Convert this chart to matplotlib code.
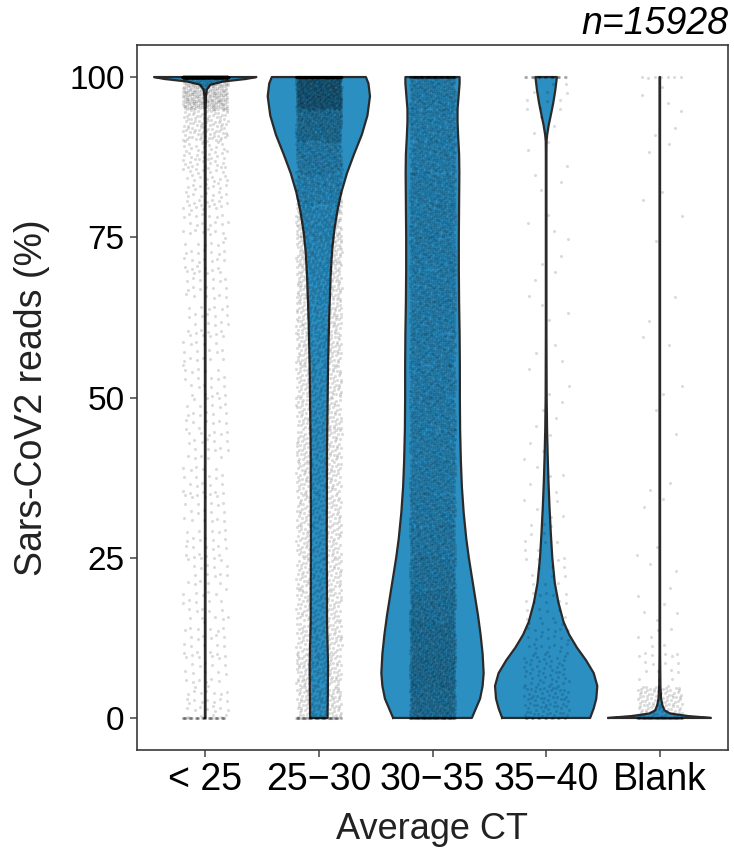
import numpy as np
import matplotlib.pyplot as plt

plt.rcParams['font.family'] = ['Liberation Sans', 'DejaVu Sans']

# categories on the x axis
categories = ['< 25', '25\u221230', '30\u221235', '35\u221240', 'Blank']

# violin outlines: y (%) and width relative to the widest point
lt25_y = [0, 2, 50, 95, 97, 98, 98.8, 99.3, 99.7, 100]
lt25_w = [0.006, 0.005, 0.005, 0.008, 0.015, 0.03, 0.1, 0.35, 0.8, 1.0]

c2530_y = [0, 3, 8, 15, 28, 42, 55, 62, 69, 73, 76, 79, 82, 85, 88, 91, 94, 97, 99, 100]
c2530_w = [0.17, 0.175, 0.18, 0.16, 0.155, 0.16, 0.18, 0.2, 0.23, 0.26, 0.30, 0.36, 0.44,
           0.55, 0.69, 0.84, 0.95, 1.0, 0.97, 0.92]

c3035_y = [0, 1.5, 3, 5, 7, 10, 13, 16, 19, 22, 25, 28, 32, 36, 40, 45, 50, 55, 60, 65,
           70, 75, 80, 85, 88, 91, 93, 95, 97, 99, 100]
c3035_w = [0.77, 0.85, 0.93, 0.98, 1.0, 0.98, 0.94, 0.89, 0.83, 0.77, 0.71, 0.66, 0.61,
           0.575, 0.555, 0.54, 0.535, 0.535, 0.53, 0.52, 0.515, 0.515, 0.52, 0.525, 0.52,
           0.5, 0.49, 0.49, 0.51, 0.53, 0.53]

c3540_y = [0, 1.5, 3, 5, 7, 9, 11, 13, 15, 18, 21, 25, 29, 33, 37, 41, 45, 50, 60, 70,
           80, 88, 90, 91, 92.5, 94, 96, 98, 100]
c3540_w = [0.86, 0.93, 0.98, 1.0, 0.93, 0.78, 0.6, 0.45, 0.34, 0.24, 0.17, 0.12, 0.09,
           0.065, 0.045, 0.03, 0.018, 0.01, 0.006, 0.006, 0.006, 0.006, 0.008, 0.02, 0.05,
           0.09, 0.14, 0.18, 0.21]

blank_y = [0, 0.3, 0.7, 1.2, 2, 3, 5, 10, 50, 100]
blank_w = [1.0, 0.55, 0.2, 0.09, 0.05, 0.025, 0.012, 0.006, 0.005, 0.005]

# jittered samples, counted per 5% bin (0-5, 5-10, ..., 95-100), plus rows at exactly 0 and 100
lt25_zero = 45
lt25_bins = [30, 22, 22, 20, 20, 22, 22, 20, 22, 22, 20, 22, 22, 24, 26, 30, 38, 55, 100, 280]
lt25_hundred = 4200

c2530_zero = 60
c2530_bins = [125, 120, 105, 100, 100, 100, 100, 105, 110, 112, 115, 120, 130, 140, 155,
              175, 220, 290, 450, 760]
c2530_hundred = 560

c3035_zero = 80
c3035_bins = [440, 470, 440, 390, 340, 300, 280, 265, 255, 250, 250, 248, 248, 248, 250,
              252, 250, 240, 235, 255]
c3035_hundred = 120

c3540_zero = 20
c3540_bins = [70, 50, 30, 18, 12, 9, 7, 5, 4, 4, 3, 3, 3, 3, 3, 3, 3, 3, 4, 10]
c3540_hundred = 25

blank_zero = 80
blank_bins = [110, 15, 8, 5, 3, 2, 2, 2, 1, 1, 2, 2, 1, 1, 1, 1, 2, 2, 3, 4]
blank_hundred = 6

n_total = 15928

profiles = [(lt25_y, lt25_w), (c2530_y, c2530_w), (c3035_y, c3035_w),
            (c3540_y, c3540_w), (blank_y, blank_w)]
samples = [(lt25_zero, lt25_bins, lt25_hundred), (c2530_zero, c2530_bins, c2530_hundred),
           (c3035_zero, c3035_bins, c3035_hundred), (c3540_zero, c3540_bins, c3540_hundred),
           (blank_zero, blank_bins, blank_hundred)]

violin_color = '#2b8fc2'
edge_color = '#2a2a2a'
half_width = 0.45
jitter = 0.2

fig = plt.figure(figsize=(7.34, 8.48), dpi=100)
ax = fig.add_axes([137 / 734, 1 - 750 / 848, (728 - 137) / 734, (750 - 45) / 848])

# violins
for i, (ys, ws) in enumerate(profiles):
    pos = i + 1
    ys = np.array(ys)
    ws = np.array(ws) * half_width
    ax.fill_betweenx(ys, pos - ws, pos + ws, facecolor=violin_color,
                     edgecolor='none', zorder=2)
    outline_x = np.concatenate([pos - ws, (pos + ws)[::-1], [pos - ws[0]]])
    outline_y = np.concatenate([ys, ys[::-1], [ys[0]]])
    ax.plot(outline_x, outline_y, color=edge_color, lw=1.6, zorder=3,
            solid_joinstyle='round')

# jittered points, spread inside each bin with a low-discrepancy layout
a1, a2 = 0.7548776662, 0.5698402910
for i, (zero, bins, hundred) in enumerate(samples):
    pos = i + 1
    xs, ys = [], []
    start = 0
    for lo, cnt in [(None, zero)] + [(b * 5, c) for b, c in enumerate(bins)] + [(None, hundred)]:
        k = np.arange(start, start + cnt)
        start += cnt
        if lo is None:
            y = np.full(cnt, 0.0 if len(ys) == 0 else 100.0)
        else:
            y = lo + ((0.5 + k * a1) % 1) * 5
        ys.append(y)
        xs.append(pos + ((0.5 + k * a2) % 1 - 0.5) * 2 * jitter)
    ax.scatter(np.concatenate(xs), np.concatenate(ys), s=5, color='black', alpha=0.14,
               linewidths=0, zorder=4)

ax.set_xlim(0.4, 5.6)
ax.set_ylim(-5, 105)
ax.set_xticks(range(1, 6))
ax.set_xticklabels(categories, fontsize=27)
ax.set_yticks([0, 25, 50, 75, 100])
ax.set_yticklabels(['0', '25', '50', '75', '100'], fontsize=24)
ax.tick_params(direction='out', length=5, width=1.1, color='#444444', pad=4,
               labelcolor='black')
for sp in ax.spines.values():
    sp.set_color('#3a3a3a')
    sp.set_linewidth(1.2)

ax.set_xlabel('Average CT', fontsize=26, labelpad=10, color='#222222')
ax.set_ylabel('Sars-CoV2 reads (%)', fontsize=27, labelpad=14, color='#222222')
ax.text(1.0, 1.004, 'n=' + str(n_total), transform=ax.transAxes, ha='right',
        va='bottom', fontsize=27, style='italic')

fig.savefig('out.png', dpi=100)
